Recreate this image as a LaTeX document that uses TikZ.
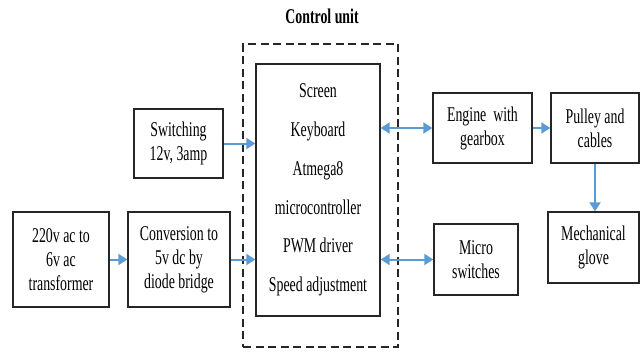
\documentclass[tikz,border=0pt]{standalone}
\usepackage{fontspec}
\setmainfont{Liberation Serif}[FakeStretch=0.66]
\usetikzlibrary{arrows.meta}
\definecolor{arrowblue}{RGB}{91,155,213}
\begin{document}
\begin{tikzpicture}[x=1pt,y=-1pt,
  box/.style={draw=black!85, line width=1.4pt, inner sep=0pt, align=center,
    font=\fontsize{21}{24}\selectfont},
  dashbox/.style={draw=black!85, line width=1.4pt, dash pattern=on 8pt off 4.5pt, inner sep=0pt},
  link/.style={draw=arrowblue, line width=2pt, -{Triangle[length=9pt,width=11pt]}},
  bilink/.style={draw=arrowblue, line width=2pt, {Triangle[length=9pt,width=11pt]}-{Triangle[length=9pt,width=11pt]}}
]
\useasboundingbox (0,0) rectangle (642,354);
\node[font=\bfseries\fontsize{21}{24}\selectfont] (title) at (322,16) {Control unit};
\node[dashbox, minimum width=155pt, minimum height=303pt] (outer) at (320.5,195.5) {};
\node[box, minimum width=124pt, minimum height=252pt, font=\fontsize{21}{38.8}\selectfont] (cu) at (318,190)
  {Screen\\Keyboard\\Atmega8\\microcontroller\\PWM driver\\Speed adjustment};
\node[box, minimum width=89pt, minimum height=69pt] (sw) at (178.5,143.5) {Switching\\12v, 3amp};
\node[box, minimum width=96pt, minimum height=95pt] (tr) at (61,259.5) {220v ac to\\6v ac\\transformer};
\node[box, minimum width=102pt, minimum height=95pt] (cv) at (179,259.5) {Conversion to\\5v dc by\\diode bridge};
\node[box, minimum width=99pt, minimum height=70pt] (en) at (482.5,128) {Engine\ \ with\\gearbox};
\node[box, minimum width=88pt, minimum height=70pt] (pu) at (595,128) {Pulley and\\cables};
\node[box, minimum width=91pt, minimum height=71pt] (mg) at (593.5,247.5) {Mechanical\\glove};
\node[box, minimum width=84pt, minimum height=71pt] (ms) at (476,259.5) {Micro\\switches};
\draw[link] (sw.east) -- (sw.east -| cu.west);
\draw[link] (tr.east) -- (cv.west);
\draw[link] (cv.east) -- (cv.east -| cu.west);
\draw[bilink] (cu.east |- en.west) -- (en.west);
\draw[bilink] (cu.east |- ms.west) -- (ms.west);
\draw[link] (en.east) -- (pu.west);
\draw[link] (pu.south) -- (pu.south |- mg.north);
\end{tikzpicture}
\end{document}
